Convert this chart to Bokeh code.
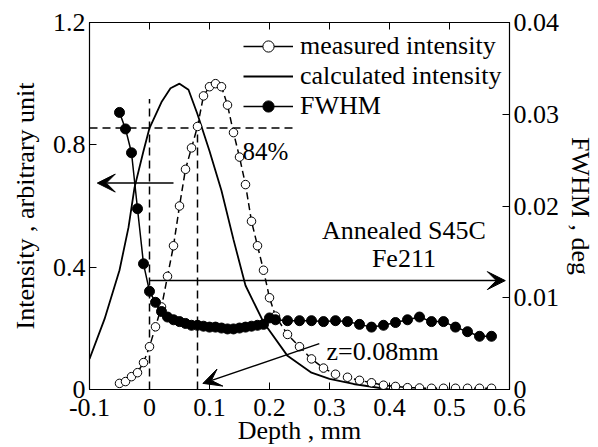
from bokeh.plotting import figure
from bokeh.models import (LinearAxis, Range1d, Legend, LegendItem, Label, Arrow,
                          VeeHead, FixedTicker, ColumnDataSource)
from bokeh.embed import file_html
from bokeh.resources import INLINE

FONT = "Liberation Serif"
FS = "26px"

# ---- data ----
depth_meas = [-0.05, -0.04, -0.03, -0.02, -0.01, 0.0, 0.01, 0.02, 0.03, 0.04, 0.05,
              0.06, 0.07, 0.08, 0.09, 0.10, 0.11, 0.12, 0.13, 0.14, 0.15, 0.16, 0.17,
              0.18, 0.19, 0.20, 0.21, 0.23, 0.25, 0.27, 0.29, 0.31, 0.33, 0.35, 0.37,
              0.39, 0.41, 0.43, 0.45, 0.47, 0.49, 0.51, 0.53, 0.55, 0.57]
int_meas = [0.02, 0.026, 0.042, 0.055, 0.088, 0.14, 0.205, 0.27, 0.37, 0.47, 0.60,
            0.72, 0.79, 0.86, 0.96, 0.99, 1.0, 0.99, 0.93, 0.84, 0.76, 0.67, 0.55,
            0.47, 0.39, 0.30, 0.24, 0.18, 0.14, 0.10, 0.07, 0.05, 0.04, 0.03, 0.022,
            0.014, 0.01, 0.006, 0.005, 0.004, 0.004, 0.004, 0.004, 0.004, 0.004]

depth_calc = [-0.1, -0.075, -0.05, -0.035, -0.025, -0.01, 0.0, 0.02, 0.035, 0.05,
              0.065, 0.08, 0.1, 0.12, 0.14, 0.16, 0.19, 0.23, 0.27, 0.3, 0.34, 0.4]
int_calc = [0.10, 0.23, 0.39, 0.53, 0.66, 0.78, 0.855, 0.94, 0.985, 1.0,
            0.98, 0.9, 0.78, 0.65, 0.49, 0.34, 0.22, 0.11, 0.055, 0.035, 0.018, 0.0]

depth_fwhm = [-0.05, -0.04, -0.03, -0.02, -0.01, 0.0, 0.01, 0.02, 0.03, 0.04, 0.05,
              0.06, 0.07, 0.08, 0.09, 0.10, 0.11, 0.12, 0.13, 0.14, 0.15, 0.16, 0.17,
              0.18, 0.19, 0.20, 0.21, 0.23, 0.25, 0.27, 0.29, 0.31, 0.33, 0.35, 0.37,
              0.39, 0.41, 0.43, 0.45, 0.47, 0.49, 0.51, 0.53, 0.55, 0.57]
fwhm_deg = [0.0302, 0.0284, 0.0258, 0.0197, 0.0137, 0.0107, 0.0095, 0.0085, 0.0079,
            0.0076, 0.0074, 0.0072, 0.0070, 0.0070, 0.0069, 0.0068, 0.0068, 0.0067,
            0.0066, 0.0066, 0.0067, 0.0068, 0.0069, 0.0070, 0.0071, 0.0078, 0.0076,
            0.0075, 0.0075, 0.0075, 0.0074, 0.0075, 0.0074, 0.0071, 0.0068, 0.0070,
            0.0073, 0.0076, 0.0079, 0.0074, 0.0074, 0.0068, 0.0063, 0.0058, 0.0058]

x_ticks = [-0.1, 0.0, 0.1, 0.2, 0.3, 0.4, 0.5, 0.6]
x_tick_labels = ["-0.1", "0", "0.1", "0.2", "0.3", "0.4", "0.5", "0.6"]
y_ticks = [0.0, 0.4, 0.8, 1.2]
y_tick_labels = ["0", "0.4", "0.8", "1.2"]
y2_ticks = [0.0, 0.01, 0.02, 0.03, 0.04]
y2_tick_labels = ["0", "0.01", "0.02", "0.03", "0.04"]

# reference guides
level_84 = 0.855
guide_h_x = [-0.1, 0.243]
guide_v_x = [0.0, 0.08]
guide_v_top = [0.95, 0.87]

p = figure(width=598, height=447, x_range=Range1d(-0.1, 0.6), y_range=Range1d(0, 1.2),
           output_backend="svg", toolbar_location=None,
           min_border_left=89, min_border_right=87, min_border_top=22, min_border_bottom=56)
p.extra_y_ranges = {"fwhm": Range1d(0, 0.04)}
p.grid.visible = False
p.outline_line_color = "black"
p.outline_line_width = 1.2
p.background_fill_color = "white"


def style_axis(ax, ticks, labels):
    ax.ticker = FixedTicker(ticks=ticks)
    ax.major_label_overrides = {t: l for t, l in zip(ticks, labels)}
    ax.major_label_text_font = FONT
    ax.major_label_text_font_size = FS
    ax.major_label_text_color = "black"
    ax.axis_label_text_font = FONT
    ax.axis_label_text_font_size = FS
    ax.axis_label_text_font_style = "normal"
    ax.axis_label_text_color = "black"
    ax.axis_line_color = "black"
    ax.major_tick_line_color = "black"
    ax.major_tick_in = 7
    ax.major_tick_out = 0
    ax.minor_tick_line_color = None
    ax.major_label_standoff = 4


xa = p.xaxis[0]
style_axis(xa, x_ticks, x_tick_labels)
xa.axis_label = "Depth , mm"
xa.major_label_standoff = 9
xa.axis_label_standoff = -3

ya = p.yaxis[0]
style_axis(ya, y_ticks, y_tick_labels)
ya.axis_label = "Intensity , arbitrary unit"
ya.axis_label_standoff = 10

ra = LinearAxis(y_range_name="fwhm", axis_label="FWHM , deg")
style_axis(ra, y2_ticks, y2_tick_labels)
ra.axis_label_standoff = 4
p.add_layout(ra, "right")

ta = LinearAxis()
style_axis(ta, x_ticks, ["" for _ in x_ticks])
ta.major_label_text_font_size = "0px"
p.add_layout(ta, "above")

# guides
p.segment(x0=[guide_h_x[0]], y0=[level_84], x1=[guide_h_x[1]], y1=[level_84],
          line_color="black", line_width=1.5, line_dash="8 5")
p.segment(x0=guide_v_x, y0=[0, 0], x1=guide_v_x, y1=guide_v_top,
          line_color="black", line_width=1.5, line_dash="8 5")

# series
r_calc = p.line(depth_calc, int_calc, line_color="black", line_width=1.8)

src_m = ColumnDataSource(dict(x=depth_meas, y=int_meas))
r_meas_line = p.line("x", "y", source=src_m, line_color="black", line_width=1.5, line_dash="7 4")
r_meas_pts = p.scatter("x", "y", source=src_m, size=8.5, fill_color="white",
                       line_color="black", line_width=1)

src_f = ColumnDataSource(dict(x=depth_fwhm, y=fwhm_deg))
r_f_line = p.line("x", "y", source=src_f, y_range_name="fwhm", line_color="black", line_width=1.5)
r_f_pts = p.scatter("x", "y", source=src_f, y_range_name="fwhm", size=10,
                    fill_color="black", line_color="black")

# legend proxies (solid line for measured), hidden in the plot
leg_m_line = p.line("x", "y", source=src_m, line_color="black", line_width=1.5, visible=False)
leg_m_pt = p.scatter("x", "y", source=src_m, size=8.5, fill_color="white",
                     line_color="black", visible=False)

legend = Legend(items=[
    LegendItem(label="measured intensity", renderers=[leg_m_line, leg_m_pt]),
    LegendItem(label="calculated intensity", renderers=[r_calc]),
    LegendItem(label="FWHM", renderers=[r_f_line, r_f_pts]),
], location=(154, 268), border_line_color=None, background_fill_alpha=0,
    label_text_font=FONT, label_text_font_size=FS, label_text_color="black",
    label_height=28, glyph_height=28, inactive_fill_alpha=0,
    glyph_width=50, label_standoff=7, spacing=0, padding=0, margin=0)
p.add_layout(legend, "center")

# arrows
p.add_layout(Arrow(x_start=0.04, y_start=0.675, x_end=-0.087, y_end=0.675,
                   line_width=1.5, end=VeeHead(size=18, fill_color="black", line_color="black")))
p.add_layout(Arrow(x_start=0.0, y_start=0.356, x_end=0.593, y_end=0.356,
                   line_width=1.5, end=VeeHead(size=18, fill_color="black", line_color="black")))
p.add_layout(Arrow(x_start=0.283, y_start=0.15, x_end=0.089, y_end=0.02,
                   line_width=1.5, end=VeeHead(size=18, fill_color="black", line_color="black")))

# labels
def lab(x, y, t, align="left", size=FS):
    p.add_layout(Label(x=x, y=y, text=t, text_font=FONT, text_font_size=size,
                       text_align=align, text_baseline="alphabetic", text_color="black"))

lab(0.155, 0.779, "84%", size="25px")
lab(0.424, 0.52, "Annealed S45C", align="center")
lab(0.424, 0.428, "Fe211", align="center")
lab(0.295, 0.124, "z=0.08mm")

open("out.html", "w").write(file_html(p, INLINE))
